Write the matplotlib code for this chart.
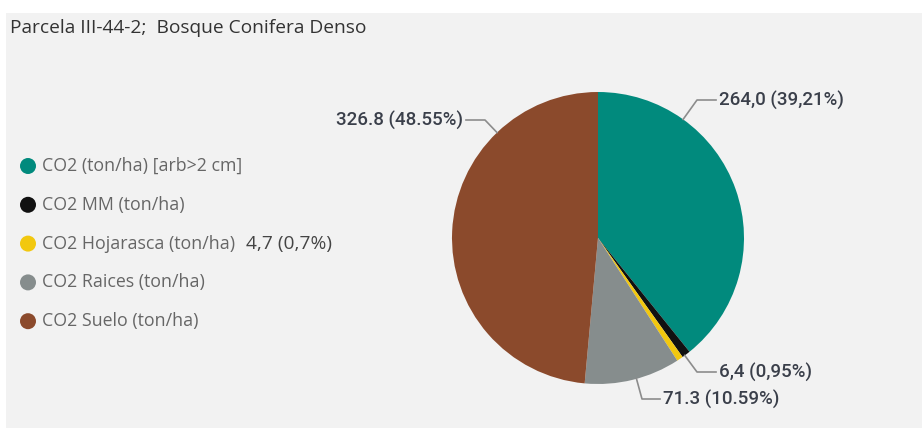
import numpy as np
import matplotlib.pyplot as plt
from matplotlib.patches import Rectangle, Circle

# Data
categories = ["CO2 (ton/ha) [arb>2 cm]", "CO2 MM (ton/ha)", "CO2 Hojarasca (ton/ha)",
              "CO2 Raices (ton/ha)", "CO2 Suelo (ton/ha)"]
values = [264.0, 6.4, 4.7, 71.3, 326.8]
value_labels = ["264,0 (39,21%)", "6,4 (0,95%)", "4,7 (0,7%)", "71.3 (10.59%)", "326.8 (48.55%)"]
colors = ["#018a7d", "#111111", "#f2c80f", "#868d8d", "#8b4a2c"]
title = "Parcela III-44-2;  Bosque Conifera Denso"

W, H = 922, 428
fig = plt.figure(figsize=(W / 100, H / 100), dpi=100)
fig.patch.set_facecolor("white")
ax = fig.add_axes([0, 0, 1, 1])
ax.set_xlim(0, W)
ax.set_ylim(0, H)
ax.axis("off")

# panel background
ax.add_patch(Rectangle((6, 0), W - 6, H - 13, facecolor="#f2f2f2", edgecolor="none", zorder=0))

ax.text(10, H - 28, title, fontsize=13.8, family="Open Sans", color="#333333", va="center", ha="left")

# pie
cx, cy, r = 598, H - 238, 146
wedges, _ = ax.pie(values, colors=colors, startangle=90, counterclock=False,
                   center=(cx, cy), radius=r, wedgeprops=dict(linewidth=0))
ax.set_xlim(0, W)
ax.set_ylim(0, H)
ax.set_aspect("auto")

# legend
for i, (cat, col) in enumerate(zip(categories, colors)):
    ly = H - (166 + i * 38.8)
    ax.add_patch(Circle((28, ly), 8, facecolor=col, edgecolor="none"))
    ax.text(42, ly, cat, fontsize=12.8, family="Open Sans", color="#666666", va="center", ha="left")

# hojarasca label sits beside legend
ax.text(246, H - 244, value_labels[2], fontsize=13.8, family="Open Sans", color="#444444",
        va="center", ha="left")

# data labels with leader lines: (label index, elbow px, end px, side)
leaders = {0: ((697, 100), (716, 100), "left"),
           1: ((697, 372), (716, 372), "left"),
           3: ((642, 399), (660, 399), "left"),
           4: ((485, 120), (466, 120), "right")}
for i, (elbow, end, side) in leaders.items():
    ex, ey = elbow[0], H - elbow[1]
    tx, ty = end[0], H - end[1]
    d = np.hypot(ex - cx, ey - cy)
    sx, sy = cx + r * (ex - cx) / d, cy + r * (ey - cy) / d
    ax.plot([sx, ex, tx], [sy, ey, ty], color="#8c8c8c", lw=1.2, zorder=3)
    if side == "left":
        ax.text(tx + 3, ty, value_labels[i], fontsize=13.5, family="Roboto", weight="medium",
                color="#3a3f4a", va="center", ha="left")
    else:
        ax.text(tx - 3, ty, value_labels[i], fontsize=13.5, family="Roboto", weight="medium",
                color="#3a3f4a", va="center", ha="right")

fig.savefig("out.png", dpi=100, facecolor=fig.get_facecolor())
